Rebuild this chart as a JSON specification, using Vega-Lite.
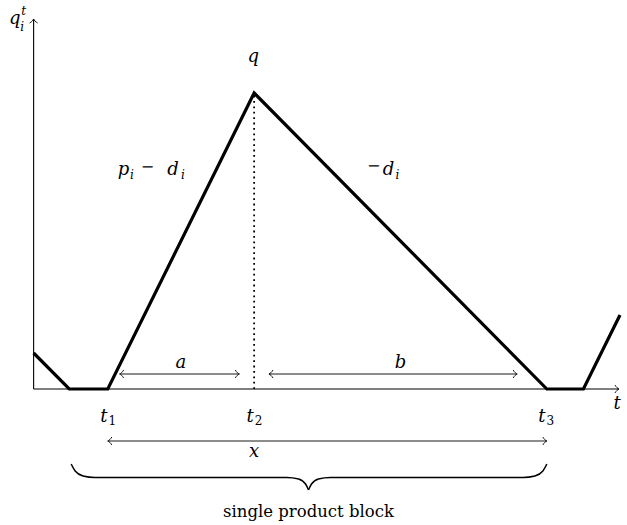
{
  "$schema": "https://vega.github.io/schema/vega-lite/v6.json",
  "width": 627,
  "height": 525,
  "padding": 0,
  "autosize": {"type": "fit", "contains": "padding"},
  "background": "white",
  "config": {"view": {"stroke": null}},
  "datasets": {
    "inventory": [
      {"x": 0, "y": 3.6}, {"x": 3.6, "y": 0}, {"x": 7.5, "y": 0}, {"x": 22.3, "y": 29.6},
      {"x": 51.9, "y": 0}, {"x": 55.6, "y": 0}, {"x": 59.3, "y": 7.4}
    ],
    "axes": [
      {"x": 0, "y": 0, "x2": 0, "y2": 37.0},
      {"x": 0, "y": 0, "x2": 59.2, "y2": 0}
    ],
    "dims": [
      {"x": 8.7, "y": 1.5, "x2": 20.8, "y2": 1.5},
      {"x": 23.8, "y": 1.5, "x2": 48.9, "y2": 1.5},
      {"x": 7.5, "y": -5.2, "x2": 51.9, "y2": -5.2}
    ],
    "dotted": [{"x": 22.3, "y": 0, "x2": 22.3, "y2": 29.6}],
    "arrowheads": [
      {"x": 0, "y": 37.0, "dir": 270}, {"x": 59.2, "y": 0, "dir": 0},
      {"x": 8.7, "y": 1.5, "dir": 180}, {"x": 20.8, "y": 1.5, "dir": 0},
      {"x": 23.8, "y": 1.5, "dir": 180}, {"x": 48.9, "y": 1.5, "dir": 0},
      {"x": 7.5, "y": -5.2, "dir": 180}, {"x": 51.9, "y": -5.2, "dir": 0}
    ],
    "brace": [
      {"part": "L", "x": 3.8, "y": -7.5}, {"part": "L", "x": 4.2, "y": -8.2}, {"part": "L", "x": 5.0, "y": -8.7},
      {"part": "L", "x": 6.2, "y": -8.85}, {"part": "L", "x": 25.6, "y": -8.85}, {"part": "L", "x": 26.8, "y": -9.0},
      {"part": "L", "x": 27.5, "y": -9.5}, {"part": "L", "x": 27.8, "y": -10.1},
      {"part": "R", "x": 27.8, "y": -10.1}, {"part": "R", "x": 28.1, "y": -9.5}, {"part": "R", "x": 28.8, "y": -9.0},
      {"part": "R", "x": 30.0, "y": -8.85}, {"part": "R", "x": 49.5, "y": -8.85}, {"part": "R", "x": 50.7, "y": -8.7},
      {"part": "R", "x": 51.5, "y": -8.2}, {"part": "R", "x": 51.9, "y": -7.5}
    ],
    "mathLabels": [
      {"t": "q", "x": -1.9, "y": 36.5}, {"t": "q", "x": 22.2, "y": 32.7},
      {"t": "p", "x": 9.1, "y": 21.4}, {"t": "d", "x": 14.1, "y": 21.4}, {"t": "d", "x": 35.9, "y": 21.4},
      {"t": "a", "x": 14.9, "y": 2.1}, {"t": "b", "x": 37.1, "y": 2.1},
      {"t": "t", "x": 7.1, "y": -3.3}, {"t": "t", "x": 21.9, "y": -3.3}, {"t": "t", "x": 51.4, "y": -3.3},
      {"t": "t", "x": 59.0, "y": -2.0}, {"t": "x", "x": 22.3, "y": -6.8}
    ],
    "mathScripts": [
      {"t": "t", "x": -1.0, "y": 37.4}, {"t": "i", "x": -1.15, "y": 35.8},
      {"t": "i", "x": 9.95, "y": 21.0}, {"t": "i", "x": 15.1, "y": 21.0}, {"t": "i", "x": 36.8, "y": 21.0}
    ],
    "romanScripts": [
      {"t": "1", "x": 7.95, "y": -3.6}, {"t": "2", "x": 22.75, "y": -3.6}, {"t": "3", "x": 52.25, "y": -3.6}
    ],
    "minusSigns": [
      {"t": "−", "x": 11.5, "y": 22.2}, {"t": "−", "x": 34.4, "y": 22.3}
    ],
    "caption": [{"t": "single product block", "x": 27.8, "y": -12.8}]
  },
  "encoding": {
    "x": {"field": "x", "type": "quantitative", "axis": null, "scale": {"domain": [-3.4, 59.3], "nice": false, "zero": false}},
    "y": {"field": "y", "type": "quantitative", "axis": null, "scale": {"domain": [-13.6, 38.9], "nice": false, "zero": false}}
  },
  "layer": [
    {
      "data": {"name": "axes"},
      "mark": {"type": "rule", "color": "black", "strokeWidth": 1.1},
      "encoding": {"x2": {"field": "x2"}, "y2": {"field": "y2"}}
    },
    {
      "data": {"name": "dims"},
      "mark": {"type": "rule", "color": "black", "strokeWidth": 0.9},
      "encoding": {"x2": {"field": "x2"}, "y2": {"field": "y2"}}
    },
    {
      "data": {"name": "dotted"},
      "mark": {"type": "rule", "color": "black", "strokeWidth": 1.8, "strokeDash": [1.8, 3.6]},
      "encoding": {"x2": {"field": "x2"}, "y2": {"field": "y2"}}
    },
    {
      "data": {"name": "arrowheads"},
      "mark": {"type": "point", "shape": "M -1 -1 C -0.7 -0.45 -0.3 -0.12 0 0 C -0.3 0.12 -0.7 0.45 -1 1", "filled": false, "stroke": "black", "strokeWidth": 0.9, "size": 64, "opacity": 1},
      "encoding": {"angle": {"field": "dir", "type": "quantitative", "scale": null}}
    },
    {
      "data": {"name": "inventory"},
      "mark": {"type": "line", "color": "black", "strokeWidth": 3.2, "strokeJoin": "miter", "strokeCap": "butt"},
      "encoding": {}
    },
    {
      "data": {"name": "brace"},
      "mark": {"type": "line", "color": "black", "strokeWidth": 1.5, "interpolate": "monotone"},
      "encoding": {"detail": {"field": "part"}}
    },
    {
      "data": {"name": "mathLabels"},
      "mark": {"type": "text", "font": "DejaVu Serif", "fontStyle": "italic", "fontSize": 18, "align": "center", "baseline": "alphabetic", "color": "black"},
      "encoding": {"text": {"field": "t"}}
    },
    {
      "data": {"name": "mathScripts"},
      "mark": {"type": "text", "font": "DejaVu Serif", "fontStyle": "italic", "fontSize": 12, "align": "center", "baseline": "alphabetic", "color": "black"},
      "encoding": {"text": {"field": "t"}}
    },
    {
      "data": {"name": "romanScripts"},
      "mark": {"type": "text", "font": "DejaVu Serif", "fontSize": 12, "align": "center", "baseline": "alphabetic", "color": "black"},
      "encoding": {"text": {"field": "t"}}
    },
    {
      "data": {"name": "minusSigns"},
      "mark": {"type": "text", "font": "DejaVu Serif", "fontSize": 16, "align": "center", "baseline": "middle", "color": "black"},
      "encoding": {"text": {"field": "t"}}
    },
    {
      "data": {"name": "caption"},
      "mark": {"type": "text", "font": "DejaVu Serif", "fontSize": 16.5, "align": "center", "baseline": "alphabetic", "color": "black"},
      "encoding": {"text": {"field": "t"}}
    }
  ]
}
